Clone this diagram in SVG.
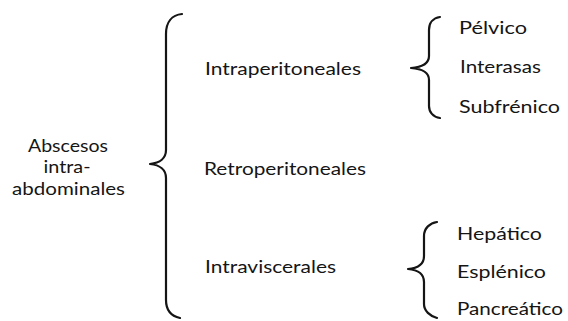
<svg xmlns="http://www.w3.org/2000/svg" width="568" height="321" viewBox="0 0 568 321">
<style>
text{font-family:Lato,"Open Sans","DejaVu Sans",sans-serif;fill:#151515;font-size:18px}
.l{font-size:17.5px}
.b{fill:none;stroke:#151515;stroke-width:2.2;stroke-linecap:round;stroke-linejoin:round}
</style>
<rect width="568" height="321" fill="#ffffff"/>
<g id="connectors">
<path class="b" d="M182,14 C172,15 166,22 166,34 L166,150 C166,158 160,163 150,164 C160,165 166,170 166,178 L166,300 C166,310 171,316 180,318"/>
<path class="b" d="M440,17 C433,18 429,23 429,30 L429,56 C429,62 425,67 411,68 C425,69 429,74 429,80 L429,106 C429,112 433,117 440,118"/>
<path class="b" d="M437,222 C430,223 424,228 424,236 L424,256 C424,263 420,268 408,269 C420,270 424,275 424,282 L424,304 C424,311 430,316 437,318"/>
</g>
<g id="root">
<text class="l" x="68" y="151.5" text-anchor="middle" textLength="80" lengthAdjust="spacingAndGlyphs">Abscesos</text>
<text class="l" x="67" y="173" text-anchor="middle" textLength="47" lengthAdjust="spacingAndGlyphs">intra-</text>
<text class="l" x="68.5" y="195" text-anchor="middle" textLength="113" lengthAdjust="spacingAndGlyphs">abdominales</text>
</g>
<g id="intraperitoneales"><text x="205" y="75" textLength="156" lengthAdjust="spacingAndGlyphs">Intraperitoneales</text></g>
<g id="retroperitoneales"><text x="204" y="175" textLength="162" lengthAdjust="spacingAndGlyphs">Retroperitoneales</text></g>
<g id="intraviscerales"><text x="205" y="273" textLength="131" lengthAdjust="spacingAndGlyphs">Intraviscerales</text></g>
<g id="pelvico"><text x="459" y="34" textLength="68" lengthAdjust="spacingAndGlyphs">Pélvico</text></g>
<g id="interasas"><text x="460" y="73" textLength="81" lengthAdjust="spacingAndGlyphs">Interasas</text></g>
<g id="subfrenico"><text x="459" y="113" textLength="101" lengthAdjust="spacingAndGlyphs">Subfrénico</text></g>
<g id="hepatico"><text x="457" y="240" textLength="85" lengthAdjust="spacingAndGlyphs">Hepático</text></g>
<g id="esplenico"><text x="457" y="278" textLength="89" lengthAdjust="spacingAndGlyphs">Esplénico</text></g>
<g id="pancreatico"><text x="457" y="315" textLength="106" lengthAdjust="spacingAndGlyphs">Pancreático</text></g>
</svg>
